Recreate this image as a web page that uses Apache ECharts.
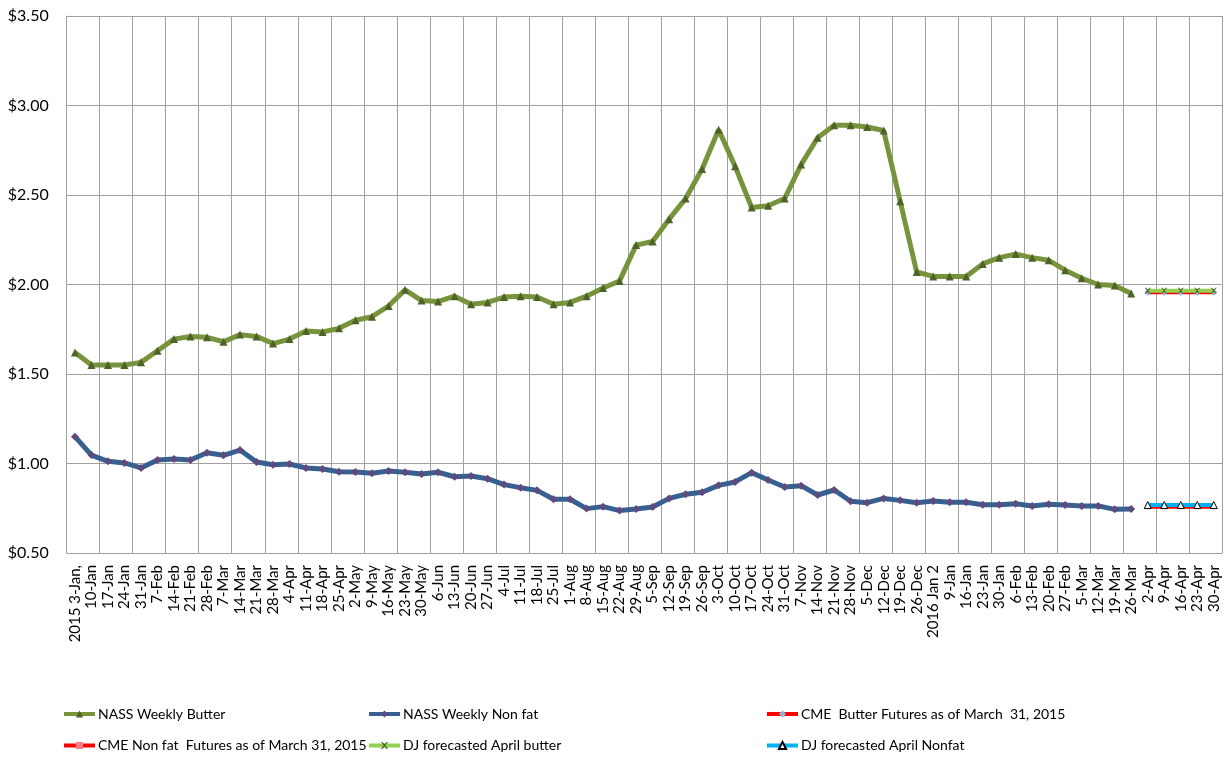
<!DOCTYPE html>
<html>
<head>
    <meta charset="utf-8">
    <title>Butter and Non fat prices</title>
    <script src="https://cdn.jsdelivr.net/npm/echarts@6/dist/echarts.min.js"></script>
    <style type="text/css">
        html, body { margin: 0; padding: 0; background: #fff; }
        #main { width: 1225px; height: 758px; }
    </style>
</head>
<body>
    <div id="main"></div>

    <script type="text/javascript">

        var weeks = ['2015 3-Jan,', '10-Jan', '17-Jan', '24-Jan', '31-Jan', '7-Feb', '14-Feb', '21-Feb', '28-Feb',
            '7-Mar', '14-Mar', '21-Mar', '28-Mar', '4-Apr', '11-Apr', '18-Apr', '25-Apr', '2-May', '9-May', '16-May',
            '23-May', '30-May', '6-Jun', '13-Jun', '20-Jun', '27-Jun', '4-Jul', '11-Jul', '18-Jul', '25-Jul', '1-Aug',
            '8-Aug', '15-Aug', '22-Aug', '29-Aug', '5-Sep', '12-Sep', '19-Sep', '26-Sep', '3-Oct', '10-Oct', '17-Oct',
            '24-Oct', '31-Oct', '7-Nov', '14-Nov', '21-Nov', '28-Nov', '5-Dec', '12-Dec', '19-Dec', '26-Dec',
            '2016 Jan 2', '9-Jan', '16-Jan', '23-Jan', '30-Jan', '6-Feb', '13-Feb', '20-Feb', '27-Feb', '5-Mar',
            '12-Mar', '19-Mar', '26-Mar', '2-Apr', '9-Apr', '16-Apr', '23-Apr', '30-Apr'];

        // weekly NASS prices, 3-Jan-2015 .. 26-Mar-2016
        var nassButter = [1.62, 1.55, 1.55, 1.55, 1.565, 1.63, 1.695, 1.71, 1.705, 1.68,
            1.72, 1.71, 1.67, 1.695, 1.74, 1.735, 1.755, 1.80, 1.82, 1.88,
            1.97, 1.91, 1.905, 1.935, 1.89, 1.90, 1.93, 1.935, 1.93, 1.89,
            1.90, 1.935, 1.98, 2.02, 2.22, 2.24, 2.365, 2.48, 2.645, 2.865,
            2.66, 2.43, 2.44, 2.48, 2.67, 2.82, 2.89, 2.89, 2.88, 2.86,
            2.465, 2.07, 2.045, 2.045, 2.045, 2.115, 2.15, 2.17, 2.15, 2.135,
            2.08, 2.035, 2.00, 1.995, 1.95];
        var nassNonfat = [1.15, 1.047, 1.012, 1.003, 0.975, 1.02, 1.025, 1.02, 1.06, 1.046,
            1.075, 1.008, 0.993, 0.997, 0.975, 0.969, 0.954, 0.952, 0.945, 0.958,
            0.951, 0.941, 0.951, 0.926, 0.93, 0.915, 0.882, 0.865, 0.85, 0.80,
            0.80, 0.748, 0.759, 0.737, 0.746, 0.757, 0.805, 0.828, 0.839, 0.878,
            0.897, 0.949, 0.908, 0.869, 0.876, 0.824, 0.852, 0.789, 0.781, 0.805,
            0.794, 0.781, 0.79, 0.783, 0.783, 0.77, 0.77, 0.775, 0.763, 0.772,
            0.768, 0.763, 0.763, 0.744, 0.746];

        // April 2016 weeks
        var cmeButter = [1.957, 1.957, 1.957, 1.957, 1.957];
        var cmeNonfat = [0.756, 0.756, 0.756, 0.756, 0.756];
        var djButter = [1.965, 1.965, 1.965, 1.965, 1.965];
        var djNonfat = [0.768, 0.768, 0.768, 0.768, 0.768];

        var yTicks = [0.5, 1.0, 1.5, 2.0, 2.5, 3.0, 3.5];

        function april(vals) {
            var out = [];
            for (var i = 0; i < weeks.length - vals.length; i++) out.push(null);
            return out.concat(vals);
        }

        var font = 'Lato, "Liberation Sans", sans-serif';
        var gridColor = '#a0a0a0';
        var crossPath = 'path://M0,0L2,0L5,3L8,0L10,0L6,4.5L10,9L8,9L5,6L2,9L0,9L4,4.5Z';

        var chart = echarts.init(document.getElementById('main'));

        function legendItem(left, top, name) {
            return {
                left: left,
                top: top,
                padding: 0,
                itemWidth: 31,
                itemHeight: 9,
                lineStyle: { width: 4 },
                textStyle: { fontFamily: font, fontSize: 14, color: '#000', padding: [0, 0, 0, -2] },
                data: [name]
            };
        }

        var option = {
            animation: false,
            backgroundColor: '#fff',
            grid: { left: 66.7, right: 3, top: 16, bottom: 205 },
            legend: [
                legendItem(62, 707, 'NASS Weekly Butter'),
                legendItem(367, 707, 'NASS Weekly Non fat'),
                legendItem(765, 707, 'CME  Butter Futures as of March  31, 2015'),
                legendItem(62, 738.5, 'CME Non fat  Futures as of March 31, 2015'),
                legendItem(367, 738.5, 'DJ forecasted April butter'),
                legendItem(765, 738.5, 'DJ forecasted April Nonfat')
            ],
            xAxis: {
                type: 'category',
                data: weeks,
                boundaryGap: true,
                axisLine: { lineStyle: { color: gridColor, width: 1 } },
                axisTick: { show: false },
                axisLabel: {
                    interval: 0,
                    rotate: 90,
                    margin: 12,
                    fontFamily: font,
                    fontSize: 15,
                    color: '#000'
                },
                splitLine: {
                    show: true,
                    interval: function (idx) { return idx % 2 === 0; },
                    lineStyle: { color: gridColor, width: 1 }
                }
            },
            yAxis: {
                type: 'value',
                min: yTicks[0],
                max: yTicks[yTicks.length - 1],
                interval: 0.5,
                axisLine: { show: true, lineStyle: { color: gridColor } },
                axisTick: { show: false },
                axisLabel: {
                    margin: 18,
                    fontFamily: font,
                    fontSize: 16,
                    color: '#000',
                    formatter: function (v) { return '$' + v.toFixed(2); }
                },
                splitLine: { lineStyle: { color: gridColor, width: 1 } }
            },
            series: [
                {
                    name: 'NASS Weekly Butter',
                    type: 'line',
                    data: nassButter,
                    symbol: 'triangle',
                    symbolSize: 8,
                    lineStyle: { color: '#77933c', width: 5 },
                    itemStyle: { color: '#4f6228' },
                    z: 3
                },
                {
                    name: 'NASS Weekly Non fat',
                    type: 'line',
                    data: nassNonfat,
                    symbol: 'diamond',
                    symbolSize: 8,
                    lineStyle: { color: '#376092', width: 5 },
                    itemStyle: { color: '#604a7b' },
                    z: 3
                },
                {
                    name: 'CME  Butter Futures as of March  31, 2015',
                    type: 'line',
                    data: april(cmeButter),
                    symbol: 'diamond',
                    symbolSize: 7,
                    lineStyle: { color: '#ff0000', width: 4 },
                    itemStyle: { color: '#8eb4e3' },
                    z: 2
                },
                {
                    name: 'CME Non fat  Futures as of March 31, 2015',
                    type: 'line',
                    data: april(cmeNonfat),
                    symbol: 'rect',
                    symbolSize: 4,
                    lineStyle: { color: '#ff0000', width: 3 },
                    itemStyle: { color: '#ff7c80' },
                    z: 2
                },
                {
                    name: 'DJ forecasted April butter',
                    type: 'line',
                    data: april(djButter),
                    symbol: crossPath,
                    symbolSize: 6,
                    lineStyle: { color: '#92d050', width: 4 },
                    itemStyle: { color: '#4f6228' },
                    z: 3
                },
                {
                    name: 'DJ forecasted April Nonfat',
                    type: 'line',
                    data: april(djNonfat),
                    symbol: 'triangle',
                    symbolSize: 7,
                    lineStyle: { color: '#00b0f0', width: 4 },
                    itemStyle: { color: '#fff', borderColor: '#000', borderWidth: 1 },
                    z: 3
                }
            ]
        };

        chart.setOption(option);

    </script>
</body>
</html>
